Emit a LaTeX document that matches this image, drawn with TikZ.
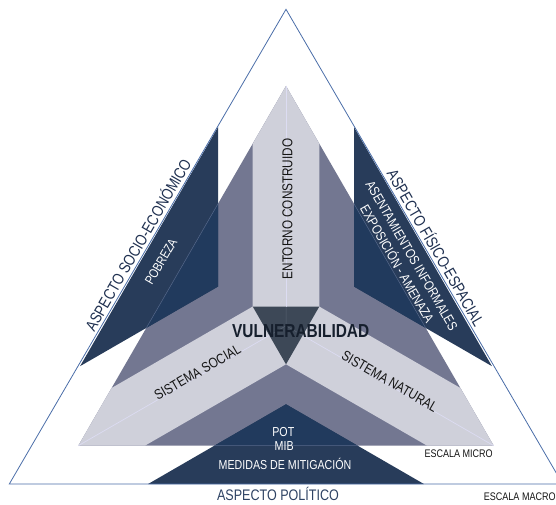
\documentclass[tikz,border=0pt]{standalone}
\usepackage{fontspec}
\setmainfont[FakeStretch=0.82]{Liberation Sans}
\usepackage{tikz,xcolor}
\definecolor{paleArm}{HTML}{CFD0DA}
\definecolor{slateMid}{HTML}{737791}
\definecolor{navyOut}{HTML}{283C5A}
\definecolor{navyIn}{HTML}{213A5D}
\definecolor{coreDark}{HTML}{3D4857}
\definecolor{edgeBlue}{HTML}{4A6DA8}
\definecolor{ridgeLav}{HTML}{DCDCF2}
\definecolor{ridgeCore}{HTML}{586272}
\definecolor{seamBlue}{HTML}{56688A}
\definecolor{inkNavy}{HTML}{1F3050}
\definecolor{titleNavy}{HTML}{2D4263}
\definecolor{vulnInk}{HTML}{161F2D}
\tikzstyle{aspectlbl} = [inner sep=0pt, text=inkNavy, font=\fontsize{16}{19}\selectfont]
\tikzstyle{factor} = [inner sep=0pt, text=white, align=center, font=\fontsize{13.6}{17}\selectfont]
\tikzstyle{system} = [inner sep=0pt, text=black!92, font=\fontsize{14.2}{17}\selectfont]
\tikzstyle{escala} = [inner sep=0pt, anchor=base west, text=black!92, font=\fontsize{11}{13}\selectfont]
\tikzstyle{ridgeline} = [ridgeLav, line width=0.7pt]
\begin{document}
\begin{tikzpicture}[x=1pt, y=-1pt]
\useasboundingbox (0,0) rectangle (556,505);
\clip (0,0) rectangle (556,505);
% outer triangle and centre
\coordinate (A0) at (286,9.3);
\coordinate (B0) at (9.3,484);
\coordinate (D0) at (562.7,484);
\coordinate (C) at (286,325.8);
% inner triangle
\coordinate (T) at (286,86);
\coordinate (L) at (78.3,445.7);
\coordinate (R) at (493.7,445.7);
% core
\coordinate (Q1) at (252.7,306.55);
\coordinate (Q2) at (319.3,306.55);
\coordinate (Q3) at (286,364.3);
\fill[slateMid] (T) -- (L) -- (R) -- cycle;
\fill[paleArm] (T) -- (252.7,143.7) -- (Q1) -- (111.6,388) -- (L) -- (144.9,445.7)
  -- (Q3) -- (427.1,445.7) -- (R) -- (460.4,388) -- (Q2) -- (319.3,143.7) -- cycle;
\fill[coreDark] (Q1) -- (Q2) -- (Q3) -- cycle;
% aspect triangles
\fill[navyOut] (218,127.1) -- (218,286.55) -- (80.1,366.15) -- cycle;
\fill[navyOut] (354,127.1) -- (354,286.55) -- (491.9,366.15) -- cycle;
\fill[navyOut] (148.1,484) -- (286,404.3) -- (423.9,484) -- cycle;
\begin{scope}
  \clip (218,127.1) -- (218,286.55) -- (80.1,366.15) -- cycle
        (354,127.1) -- (354,286.55) -- (491.9,366.15) -- cycle
        (148.1,484) -- (286,404.3) -- (423.9,484) -- cycle;
  \fill[navyIn] (T) -- (L) -- (R) -- cycle;
  \draw[seamBlue, line width=0.5pt] (T) -- (L) -- (R) -- cycle;
\end{scope}
% ridges
\draw[ridgeline] (T) -- (286,306.55);
\draw[ridgeline] (L) -- (269.35,335.4);
\draw[ridgeline] (R) -- (302.65,335.4);
\draw[ridgeCore, line width=0.5pt] (C) -- (286,306.55) (C) -- (269.35,335.4) (C) -- (302.65,335.4);
\draw[edgeBlue, line width=0.8pt] (A0) -- (B0) -- (D0) -- cycle;
% labels
\node[aspectlbl, rotate=60, anchor=base] (socio) at (143.1,247.75) {ASPECTO SOCIO-ECONÓMICO};
\node[aspectlbl, rotate=-60, anchor=base] (fisico) at (430.6,250.65) {ASPECTO FÍSICO-ESPACIAL};
\node[aspectlbl, text=titleNavy, anchor=base, font=\fontsize{15.3}{18}\selectfont] (politico) at (278,500) {ASPECTO POLÍTICO};
\node[factor, rotate=60, font=\fontsize{13}{15}\selectfont] (pobreza) at (161,261.7) {POBREZA};
\node[factor, rotate=-60] (asentam) at (404.4,260) {ASENTAMIENTOS INFORMALES\\EXPOSICIÓN - AMENAZA};
\node[system, rotate=90, font=\fontsize{14.3}{17}\selectfont] (entorno) at (287.5,209) {ENTORNO CONSTRUIDO};
\node[system, rotate=30, anchor=base] (social) at (200,376.5) {SISTEMA SOCIAL};
\node[system, rotate=-30, anchor=base] (natural) at (387.2,385.5) {SISTEMA NATURAL};
\node[inner sep=0pt, anchor=base, text=vulnInk, font=\bfseries\fontsize{18.8}{22}\selectfont] (vuln) at (300.7,337.3) {VULNERABILIDAD};
\node[factor, anchor=base, font=\fontsize{13}{15}\selectfont] (pot) at (283.3,436.7) {POT};
\node[factor, anchor=base, font=\fontsize{13}{15}\selectfont] (mib) at (284.2,450.7) {MIB};
\node[factor, anchor=base, font=\fontsize{13}{15}\selectfont] (medidas) at (285,469) {MEDIDAS DE MITIGACIÓN};
\node[escala] (micro) at (424.3,457.7) {ESCALA MICRO};
\node[escala] (macro) at (483.7,500) {ESCALA MACRO};
\end{tikzpicture}
\end{document}
